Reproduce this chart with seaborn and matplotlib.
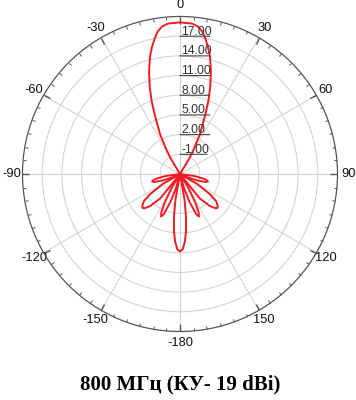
#!/usr/bin/env python3
"""Polar radiation pattern, 800 MHz, gain 19 dBi."""

import numpy as np
import pandas as pd
import matplotlib
matplotlib.use("Agg")
import matplotlib.pyplot as plt
import seaborn as sns

# pattern: azimuth (deg, clockwise from top) and gain (dB)
angle_deg = [
    0, 4.5, 6.9, 8.9, 10.6, 12.3, 14.3, 16.8, 19.1, 21.3, 23.3, 26.6, 29.5, 31, 34,
    95, 98, 101, 103, 105, 107, 110, 113, 117,
    120, 124, 127, 130, 132, 134, 137, 141, 146,
    149, 152, 154, 156, 158, 161, 164, 167,
    170, 172, 174, 176, 178, 180, 182, 184, 186, 188, 190, 193,
    196, 199, 202, 204, 206, 208, 211, 214,
    219, 223, 226, 228, 230, 233, 236, 240, 243,
    247, 250, 253, 255, 257, 259, 262, 265,
    326, 329, 330.5, 333.4, 336.7, 338.7, 340.9, 343.2, 345.7, 347.7, 349.4, 351.1, 353.1, 355.5, 360,
]
gain_db = [
    19.1, 19.0, 18.65, 18.0, 17.0, 15.9, 14.5, 12.3, 10.1, 7.9, 5.6, 2.8, 0.0, -1.3, -4,
    -4, -1.8, -0.4, 0.2, 0.4, 0.2, -1.0, -2.5, -4,
    -1.0, 1.5, 2.9, 3.5, 3.7, 3.5, 2.7, 0.8, -4,
    -1.4, 1.1, 2.5, 3.1, 2.6, 0.6, -1.6, -4,
    0.0, 2.6, 4.8, 6.4, 7.5, 7.8, 7.5, 6.4, 4.8, 2.6, 0.0, -4,
    -1.6, 0.6, 2.6, 3.1, 2.5, 1.1, -1.4, -4,
    0.8, 2.7, 3.5, 3.7, 3.5, 2.9, 1.5, -1.0, -4,
    -2.5, -1.0, 0.2, 0.4, 0.2, -0.4, -1.8, -4,
    -4, -1.3, 0.0, 2.8, 5.6, 7.9, 10.1, 12.3, 14.5, 15.9, 17.0, 18.0, 18.65, 19.0, 19.1,
]

ring_values = [-1, 2, 5, 8, 11, 14, 17]
angle_ticks = [0, 30, 60, 90, 120, 150, 180, 210, 240, 270, 300, 330]
angle_labels = ["0", "30", "60", "90", "120", "150", "-180",
                "-150", "-120", "-90", "-60", "-30"]
r_min, r_max = -4, 20
title = "800 МГц (КУ- 19 dBi)"


def main():
    sns.set_style("white")
    plt.rcParams['font.family'] = ['Liberation Sans', 'DejaVu Sans']

    fig = plt.figure(figsize=(3.56, 4.0), dpi=100)
    ax = fig.add_axes([0.0632, 0.17125, 0.8848, 0.7875], projection='polar')
    ax.set_theta_zero_location('N')
    ax.set_theta_direction(-1)

    df = pd.DataFrame({'theta': np.deg2rad(angle_deg), 'gain': gain_db})
    sns.lineplot(data=df, x='theta', y='gain', ax=ax, sort=False,
                 estimator=None, color='#f01c24', lw=1.4)
    ax.set_xlabel('')
    ax.set_ylabel('')

    ax.set_ylim(r_min, r_max)
    ax.set_yticks(ring_values)
    ax.set_yticklabels([])
    ax.set_xticks(np.deg2rad(angle_ticks))
    ax.set_xticklabels(angle_labels, fontsize=9.3, color='#111111')
    ax.set_xticks(np.deg2rad(np.arange(0, 360, 5)), minor=True)
    # on a polar axes the outer circle is the "top" side of the theta axis
    ax.tick_params(axis='x', which='both', top=True, bottom=False,
                   labeltop=False, labelbottom=True)
    ax.tick_params(axis='x', which='major', length=5, width=1.0,
                   direction='in', color='#555555', pad=1)
    ax.tick_params(axis='x', which='minor', length=2.5, width=0.7,
                   direction='in', color='#555555')
    ax.grid(True, color='#d4d4d4', lw=0.8)
    ax.spines['polar'].set_color('#555555')
    ax.spines['polar'].set_linewidth(0.9)

    # underlined ring labels along the 0 deg spoke
    for val in ring_values:
        txt = f"{val:.2f}"
        ax.annotate(txt, xy=(0, val), xytext=(1.0, 1.2),
                    textcoords='offset points', fontsize=8.8,
                    color='#333333', ha='left', va='baseline')
        ulen = 19.5 if val < 0 else 21.5
        ax.annotate('', xy=(0, val), xytext=(ulen, 0),
                    textcoords='offset points',
                    arrowprops=dict(arrowstyle='-', color='#444444',
                                    lw=0.8, shrinkA=0, shrinkB=0))

    fig.text(0.506, 0.04, title, ha='center', va='center', fontsize=15,
             fontweight='bold', color='black',
             family=['Liberation Serif', 'DejaVu Serif'])

    fig.savefig('out.png', dpi=100)
    plt.close(fig)


if __name__ == "__main__":
    main()
